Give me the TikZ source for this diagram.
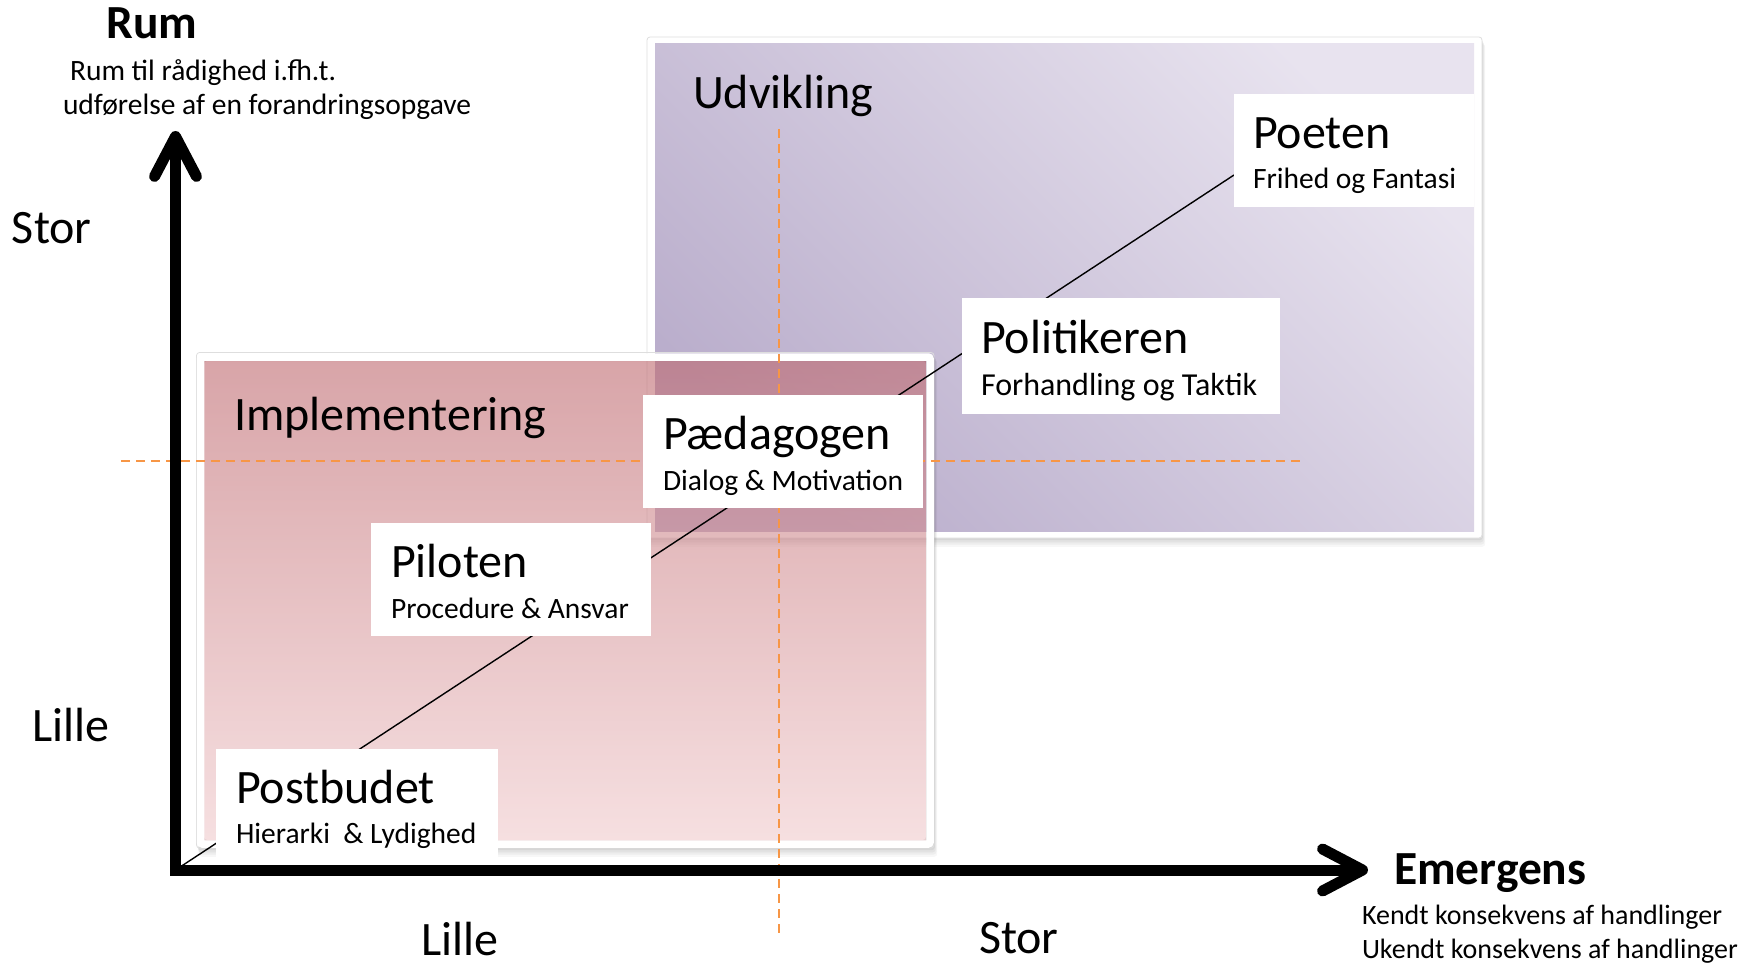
\documentclass[tikz,border=0pt]{standalone}
\usepackage{fontspec}
\setmainfont{Carlito}
\usetikzlibrary{arrows.meta,calc}
\definecolor{dashorange}{RGB}{247,150,70}
\definecolor{purpledark}{RGB}{186,174,204}
\definecolor{purplelight}{RGB}{232,227,239}
\definecolor{pinktop}{RGB}{190,104,110}
\definecolor{pinkbot}{RGB}{240,202,204}
\tikzset{
  bigtext/.style={font=\fontsize{48}{56}\selectfont, anchor=base west, inner sep=0pt, outer sep=0pt},
  boldtext/.style={font=\fontsize{47.5}{56}\selectfont\bfseries, anchor=base west, inner sep=0pt, outer sep=0pt},
  subtext/.style={font=\fontsize{29.5}{35}\selectfont, anchor=base west, inner sep=0pt, outer sep=0pt},
  subtextlarge/.style={font=\fontsize{32}{38}\selectfont, anchor=base west, inner sep=0pt, outer sep=0pt},
  notetext/.style={font=\fontsize{28}{34}\selectfont, anchor=base west, inner sep=0pt, outer sep=0pt},
  rolebox/.style={fill=white, anchor=north west, minimum height=113pt, inner sep=0pt, outer sep=0pt},
  axisline/.style={line width=11pt, line join=miter,
    {Straight Barb[length=40pt,width=42pt,round]}-{Straight Barb[length=40pt,width=42pt,round]}},
  guide/.style={dashorange, line width=2pt, dash pattern=on 9pt off 6pt},
  diag/.style={black, line width=1.4pt},
  framering/.style={white, line width=7.5pt, rounded corners=2pt},
  frameedge/.style={black!13, line width=0.8pt, rounded corners=3pt},
}
\begin{document}
\begin{tikzpicture}[x=1pt,y=-1pt]
\useasboundingbox (0,0) rectangle (1759,963);

% ---------- Udvikling (purple) area ----------
\foreach \k/\o in {1/0.05,2/0.05,3/0.04,4/0.03}
  \fill[black, opacity=\o, rounded corners=3pt] (647+\k*0.5,37+\k*1.8) rectangle (1482+\k*0.8,538+\k*2.2);
\fill[white, rounded corners=2pt] (647,37) rectangle (1482,538);
\draw[frameedge] (647,37) rectangle (1482,538);
\shade[top color=purplelight, bottom color=purpledark, shading angle=-45] (655,44) rectangle (1474,531);

% ---------- Implementering (pink) area ----------
\foreach \k/\o in {1/0.05,2/0.05,3/0.04,4/0.03}
  \fill[black, opacity=\o, even odd rule, rounded corners=3pt]
    (197+\k*0.5,353+\k*1.8) rectangle (934+\k*0.8,848+\k*2.2) (204,361) rectangle (926,840);
\shade[top color=pinktop, bottom color=pinkbot, fill opacity=0.6] (204,361) rectangle (926,840);
\draw[frameedge] (196.5,352.5) rectangle (934,848);
\draw[framering] (200.5,357) rectangle (930,844);

% ---------- guide lines ----------
\coordinate (vtop) at (779,129);
\coordinate (vbot) at (779,934);
\coordinate (hleft) at (121,461);
\coordinate (hright) at (1305,461);
\draw[guide] (vtop) -- (vbot);
\draw[guide] (hleft) -- (hright);

% ---------- axes ----------
\coordinate (origin) at (175.5,870);
\coordinate (ytop) at (175.5,131);
\coordinate (xend) at (1368,870);
\coordinate (lineend) at (1234,175);
\draw[diag] (origin) -- (lineend);
\draw[axisline] (ytop) -- (origin) -- (xend);

% ---------- area titles ----------
\node[bigtext] (udvikling) at (693,109) {Udvikling};
\node[bigtext] (implementering) at (234,430) {Implementering};

% ---------- role boxes ----------
\node[rolebox, minimum width=240pt] (poeten) at (1234,94) {};
\node[bigtext] (poeten-t) at ($(poeten.north west)+(19,55)$) {Poeten};
\node[subtext] (poeten-s) at ($(poeten.north west)+(19,95)$) {Frihed og Fantasi};

\node[rolebox, minimum width=318pt, minimum height=116pt] (politikeren) at (962,298) {};
\node[bigtext] (politikeren-t) at ($(politikeren.north west)+(19,55)$) {Politikeren};
\node[subtextlarge] (politikeren-s) at ($(politikeren.north west)+(19,97)$) {Forhandling og Taktik};

\node[rolebox, minimum width=280pt] (paedagogen) at (643,395) {};
\node[bigtext] (paedagogen-t) at ($(paedagogen.north west)+(20,54)$) {Pædagogen};
\node[subtext] (paedagogen-s) at ($(paedagogen.north west)+(20,95)$) {Dialog \& Motivation};

\node[rolebox, minimum width=280pt] (piloten) at (371,523) {};
\node[bigtext] (piloten-t) at ($(piloten.north west)+(20,54)$) {Piloten};
\node[subtext] (piloten-s) at ($(piloten.north west)+(20,95)$) {Procedure \& Ansvar};

\node[rolebox, minimum width=282pt] (postbudet) at (216,749) {};
\node[bigtext] (postbudet-t) at ($(postbudet.north west)+(20,54)$) {Postbudet};
\node[subtext] (postbudet-s) at ($(postbudet.north west)+(20,94)$) {Hierarki\ \ \& Lydighed};

% ---------- axis labels ----------
\node[boldtext, anchor=base] (rum) at (152,39) {Rum};
\node[subtext] (rum-1) at (70,81) {Rum til rådighed i.fh.t.};
\node[subtext] (rum-2) at (63,115) {udførelse af en forandringsopgave};
\node[bigtext] (y-stor) at (12,243) {Stor};
\node[bigtext] (y-lille) at (32,741.5) {Lille};
\node[bigtext] (x-lille) at (421,955) {Lille};
\node[bigtext] (x-stor) at (979,953) {Stor};
\node[boldtext] (emergens) at (1394,884) {Emergens};
\node[notetext] (em-1) at (1362,924) {Kendt konsekvens af handlinger};
\node[notetext] (em-2) at (1362,958) {Ukendt konsekvens af handlinger};
\end{tikzpicture}
\end{document}
